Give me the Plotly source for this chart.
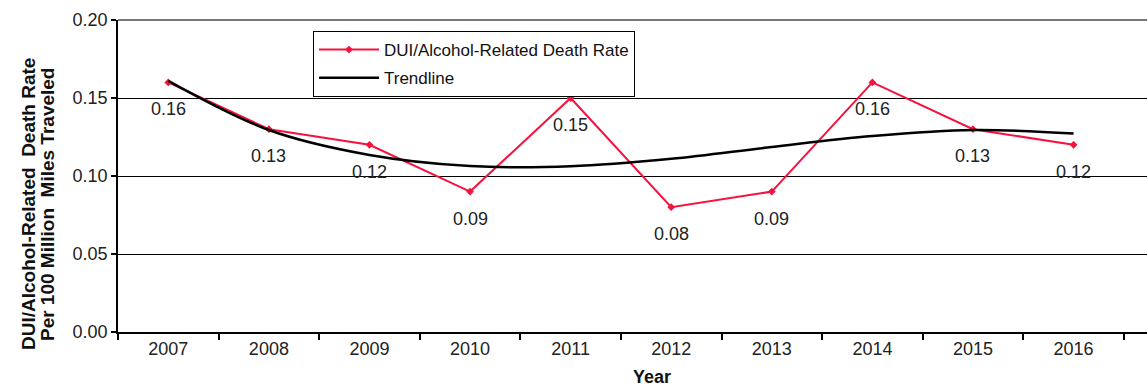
import plotly.graph_objects as go

years = ["2007", "2008", "2009", "2010", "2011", "2012", "2013", "2014", "2015", "2016"]
death_rate = [0.16, 0.13, 0.12, 0.09, 0.15, 0.08, 0.09, 0.16, 0.13, 0.12]
trendline = [0.161, 0.1295, 0.1135, 0.1064, 0.1062, 0.111, 0.1186, 0.1256, 0.1295, 0.1272]
rate_labels = ["0.16", "0.13", "0.12", "0.09", "0.15", "0.08", "0.09", "0.16", "0.13", "0.12"]
y_ticks = [0.0, 0.05, 0.10, 0.15, 0.20]
y_tick_text = ["0.00", "0.05", "0.10", "0.15", "0.20"]

FONT = "Liberation Sans, Arial, sans-serif"
RED = "#f5123c"

fig = go.Figure()
fig.add_trace(go.Scatter(
    x=years, y=death_rate, mode="lines+markers", name="DUI/Alcohol-Related Death Rate",
    line=dict(color=RED, width=2), marker=dict(color=RED, size=6, symbol="diamond"),
    legendgroup="a",
))
fig.add_trace(go.Scatter(
    x=years, y=trendline, mode="lines", name="Trendline",
    line=dict(color="black", width=2.5, shape="spline", smoothing=1.0),
    legendgroup="b",
))

annotations = []
for i, (v, t) in enumerate(zip(death_rate, rate_labels)):
    annotations.append(dict(x=i, y=v, xref="x", yref="y", text=t, showarrow=False, yshift=-27,
                            font=dict(family=FONT, size=18, color="#222")))
title_y = 0.41
annotations.append(dict(xref="paper", yref="paper", x=-0.0875, y=title_y,
                        text="<b>DUI/Alcohol-Related\u00a0\u00a0Death Rate</b>", textangle=-90,
                        showarrow=False, font=dict(family=FONT, size=19, color="#111"),
                        xanchor="center", yanchor="middle"))
annotations.append(dict(xref="paper", yref="paper", x=-0.0875 + 19 / 1029, y=title_y,
                        text="<b>Per 100 Million\u00a0\u00a0Miles Traveled</b>", textangle=-90,
                        showarrow=False, font=dict(family=FONT, size=19, color="#111"),
                        xanchor="center", yanchor="middle"))
annotations.append(dict(xref="paper", yref="paper", x=(652 - 118) / 1029, y=-(377 - 332) / 312,
                        text="<b>Year</b>", showarrow=False,
                        font=dict(family=FONT, size=18, color="#111"),
                        xanchor="center", yanchor="middle"))

fig.update_layout(
    width=1147, height=388,
    margin=dict(l=118, r=0, t=20, b=56),
    paper_bgcolor="white", plot_bgcolor="white",
    font=dict(family=FONT, size=18, color="#222"),
    showlegend=True,
    legend=dict(x=(313 - 118) / 1029, y=(332 - 31) / 312, xanchor="left", yanchor="top",
                bgcolor="white", bordercolor="black", borderwidth=1,
                font=dict(family=FONT, size=17, color="#111"),
                tracegroupgap=3, itemwidth=60),
    xaxis=dict(type="category", range=[-0.5, 9.73], tickson="boundaries",
               ticks="outside", ticklen=6, tickcolor="black", tickwidth=1.5,
               showline=True, linecolor="black", linewidth=1.5, showgrid=False,
               tickfont=dict(family=FONT, size=18, color="#222")),
    yaxis=dict(range=[0, 0.2], tickvals=y_ticks, ticktext=y_tick_text,
               ticks="outside", ticklen=5, tickcolor="black", tickwidth=1.5,
               showline=True, linecolor="black", linewidth=1.5,
               showgrid=True, gridcolor="black", gridwidth=1, zeroline=False,
               tickfont=dict(family=FONT, size=18, color="#222")),
    annotations=annotations,
    shapes=[dict(type="line", xref="paper", yref="paper", x0=0, x1=1, y0=1, y1=1,
                 line=dict(color="#777", width=2), layer="above")],
)

fig.write_html("out.html")
